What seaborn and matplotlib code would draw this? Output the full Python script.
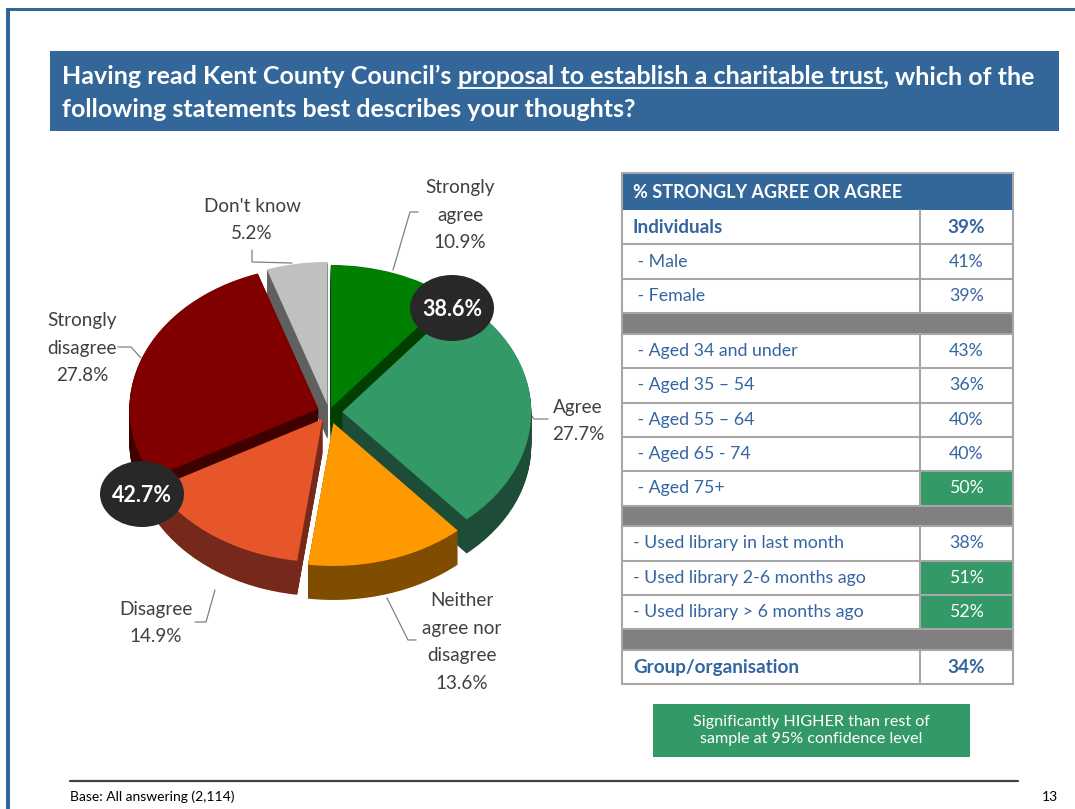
import numpy as np
import matplotlib
matplotlib.use("Agg")
import matplotlib.pyplot as plt
from matplotlib.patches import Rectangle, Ellipse
import seaborn as sns

# pie data (percent of all answering)
categories = ["Strongly agree", "Agree", "Neither agree nor disagree",
              "Disagree", "Strongly disagree", "Don't know"]
pie_labels = ["Strongly\nagree", "Agree", "Neither\nagree nor\ndisagree",
              "Disagree", "Strongly\ndisagree", "Don't know"]
shares = [10.9, 27.7, 13.6, 14.9, 27.8, 5.2]
top_colours = ["#008000", "#339966", "#ff9900", "#e6562a", "#800000", "#c0c0c0"]
side_colours = ["#003f00", "#1d4d36", "#7f4c00", "#76291a", "#3f0000", "#606060"]
explode = [0.03, 0.07, 0.08, 0.06, 0.06, 0.05]

# table data (None = grey separator row)
row_labels = ["Individuals", " - Male", " - Female", None,
              " - Aged 34 and under", " - Aged 35 \u2013 54", " - Aged 55 \u2013 64",
              " - Aged 65 - 74", " - Aged 75+", None,
              "- Used library in last month", "- Used library 2-6 months ago",
              "- Used library > 6 months ago", None, "Group/organisation"]
row_values = [39, 41, 39, None, 43, 36, 40, 40, 50, None, 38, 51, 52, None, 34]
row_bold = [True, False, False, False, False, False, False, False, False, False,
            False, False, False, False, True]
row_significant = [False, False, False, False, False, False, False, False, True,
                   False, False, True, True, False, False]

W, H = 1075, 809
BLUE = "#336699"
GREEN = "#339966"
TXT = "#404040"
TBL_TXT = "#3565a0"

sns.set_theme(style="white")
plt.rcParams["font.family"] = ["Lato", "DejaVu Sans"]

fig = plt.figure(figsize=(W / 100, H / 100), dpi=100)
fig.patch.set_facecolor("white")

# background axes in pixel coordinates
bg = fig.add_axes([0, 0, 1, 1])
bg.set_xlim(0, W)
bg.set_ylim(H, 0)
bg.axis("off")

# slide frame
bg.add_patch(Rectangle((6, 8), W - 6, 3, color=BLUE, lw=0))
bg.add_patch(Rectangle((6, 8), 4, H - 8, color=BLUE, lw=0))

# title box
bg.add_patch(Rectangle((50, 51), 1009, 80, color=BLUE, lw=0))
renderer = fig.canvas.get_renderer()
title_kw = dict(color="white", fontsize=18, fontweight="bold", va="baseline")
y1 = 84
t1 = bg.text(62, y1, "Having read Kent County Council\u2019s", **title_kw)
sp = bg.text(0, 0, "x x", **title_kw)
sp2 = bg.text(0, 0, "xx", **title_kw)
space_w = sp.get_window_extent(renderer).width - sp2.get_window_extent(renderer).width
sp.remove()
sp2.remove()
x_end = t1.get_window_extent(renderer).x1 + space_w
t2 = bg.text(x_end, y1, "proposal to establish a charitable trust", **title_kw)
e2 = t2.get_window_extent(renderer)
bg.text(e2.x1, y1, ", which of the", **title_kw)
bg.plot([e2.x0, e2.x1], [y1 + 3.5, y1 + 3.5], color="white", lw=1.3)
bg.text(62, 117, "following statements best describes your thoughts?", **title_kw)

# table
tx0, tx1, tdiv = 622, 1013, 920
grid = "#a6a6a6"
bg.add_patch(Rectangle((tx0, 173), tx1 - tx0, 37, color=BLUE, lw=0))
bg.text(633, 192, "% STRONGLY AGREE OR AGREE", color="white", fontsize=13,
        fontweight="bold", va="center")
y = 210
for lab, val, bold, sig in zip(row_labels, row_values, row_bold, row_significant):
    if lab is None:
        h = 20.5
        bg.add_patch(Rectangle((tx0, y), tx1 - tx0, h, color="#808080", lw=0))
    else:
        h = 34.4
        if sig:
            bg.add_patch(Rectangle((tdiv, y), tx1 - tdiv, h, color=GREEN, lw=0))
        wt = "bold" if bold else "normal"
        fs = 13.6 if bold else 12.8
        bg.text(633, y + h / 2, lab, color=TBL_TXT, fontsize=fs, fontweight=wt,
                va="center")
        bg.text((tdiv + tx1) / 2, y + h / 2, f"{val}%",
                color="white" if sig else TBL_TXT, fontsize=fs, fontweight=wt,
                va="center", ha="center")
        bg.plot([tdiv, tdiv], [y, y + h], color=grid, lw=1.5)
    bg.plot([tx0, tx1], [y + h, y + h], color=grid, lw=1.5)
    y += h
bg.plot([tx0, tx1], [173, 173], color=grid, lw=1.5)
bg.plot([tx0, tx0], [173, y], color=grid, lw=1.5)
bg.plot([tx1, tx1], [173, y], color=grid, lw=1.5)

# note box
bg.add_patch(Rectangle((653, 704), 317, 53, color=GREEN, lw=0))
bg.text(811, 730.5, "Significantly HIGHER than rest of\nsample at 95% confidence level",
        color="white", fontsize=11.6, ha="center", va="center", linespacing=1.35)

# footer
bg.plot([70, 1018], [781, 781], color="#404040", lw=1.6)
bg.text(70, 797, "Base: All answering (2,114)", color="black", fontsize=10, va="center")
bg.text(1058, 797, "13", color="black", fontsize=10, va="center", ha="right")

# pie labels and leader lines
lab_kw = dict(color=TXT, fontsize=13.6, ha="center", va="center", linespacing=1.78)
label_pos = [(460, 215), (578, 421), (462, 642), (156, 623), (82, 348), (252, 220)]
for lab, val, (lx, ly) in zip(pie_labels, shares, label_pos):
    bg.text(lx, ly, f"{lab}\n{val:.1f}%", **lab_kw)
leaders = [
    ([418, 410, 393], [212, 212, 270]),
    ([548, 534, 527], [419, 419, 410]),
    ([416, 408, 387], [640, 640, 598]),
    ([195, 206, 215], [622, 622, 590]),
    ([118, 131, 141], [347, 347, 358]),
    ([252, 252, 292], [250, 262, 263]),
]
for xs, ys in leaders:
    bg.plot(xs, ys, color="#808080", lw=0.9)

# 3D-looking pie: stacked darker layers for the side, then the top face
cx, cy, rx, ry, depth = 329, 412, 189, 143, 34
ax = fig.add_axes([(cx - 1.3 * rx) / W, (H - cy - 1.3 * ry) / H,
                   2.6 * rx / W, 2.6 * ry / H])
ax.patch.set_alpha(0)
d_units = depth / ry
for d in np.linspace(d_units, 0.005, 45):
    ax.pie(shares, colors=side_colours, explode=explode, startangle=90,
           counterclock=False, center=(0, -d), radius=1,
           wedgeprops=dict(linewidth=0))
ax.pie(shares, colors=top_colours, explode=explode, startangle=90,
       counterclock=False, center=(0, 0), radius=1,
       wedgeprops=dict(linewidth=0))
ax.set_aspect("auto")
ax.set_xlim(-1.3, 1.3)
ax.set_ylim(-1.3, 1.3)
ax.axis("off")

# bubbles with agree / disagree totals
ov = fig.add_axes([0, 0, 1, 1])
ov.set_xlim(0, W)
ov.set_ylim(H, 0)
ov.axis("off")
ov.patch.set_alpha(0)
agree_total = shares[0] + shares[1]
disagree_total = shares[3] + shares[4]
for (bx, by), tot in [((452, 308), agree_total), ((142, 494), disagree_total)]:
    ov.add_patch(Ellipse((bx, by), 84, 66, color="#282828", lw=0))
    ov.text(bx, by + 1, f"{tot:.1f}%", color="white", fontsize=15.5,
            fontweight="bold", ha="center", va="center")

fig.savefig("out.png", dpi=100)
